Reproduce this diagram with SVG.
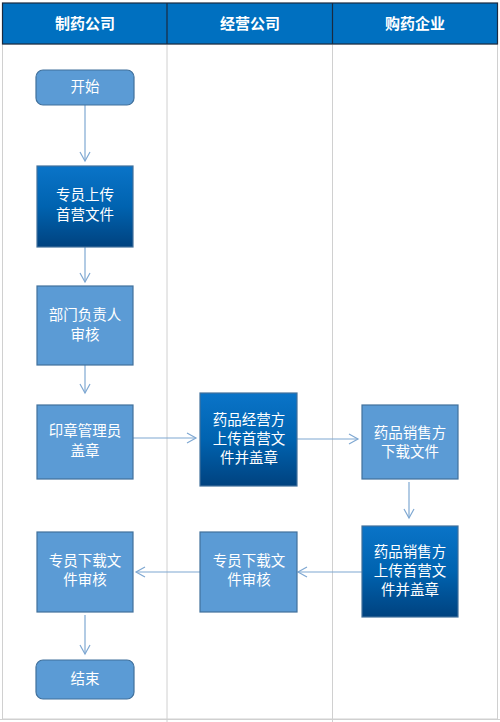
<svg xmlns="http://www.w3.org/2000/svg" width="500" height="722" viewBox="0 0 500 722">
<style>
.lane{fill:none;stroke:#d0d0d0;stroke-width:1}
.hdr{fill:#0070C0;stroke:#1a2a40;stroke-width:1.2}
.ht{font-family:"Noto Sans CJK SC","Noto Sans",sans-serif;font-size:15px;font-weight:bold;fill:#fff;text-anchor:middle}
.lt{fill:#5B9BD5;stroke:#41719C;stroke-width:1.2}
.dk{fill:url(#g);stroke:#41719C;stroke-width:1.2}
.t{font-family:"Noto Sans CJK SC","Noto Sans",sans-serif;font-size:14.5px;fill:#fff;text-anchor:middle}
.c{fill:none;stroke:#7FA8D2;stroke-width:1.2;marker-end:url(#a)}
</style>
<defs>
<linearGradient id="g" x1="0" y1="0" x2="0" y2="1">
<stop offset="0" stop-color="#0A74C8"/>
<stop offset="0.5" stop-color="#0063B0"/>
<stop offset="1" stop-color="#00427F"/>
</linearGradient>
<marker id="a" markerWidth="12" markerHeight="12" refX="10" refY="6" orient="auto" markerUnits="userSpaceOnUse">
<path d="M1,1 L10,6 L1,11" fill="none" stroke="#7FA8D2" stroke-width="1.2"/>
</marker>
</defs>
<rect width="500" height="722" fill="#fff"/>
<g id="lanes">
<rect class="lane" x="2.5" y="44" width="495" height="675"/>
<line class="lane" x1="167" y1="44" x2="167" y2="722"/>
<line class="lane" x1="332.5" y1="44" x2="332.5" y2="722"/>
<line class="lane" x1="0" y1="719.5" x2="500" y2="719.5"/>
</g>
<g id="header">
<rect class="hdr" x="2.5" y="3" width="495" height="41"/>
<line x1="167" y1="3" x2="167" y2="44" stroke="#1a2a40" stroke-width="1.2"/>
<line x1="332.5" y1="3" x2="332.5" y2="44" stroke="#1a2a40" stroke-width="1.2"/>
<text class="ht" x="85" y="29">制药公司</text>
<text class="ht" x="250" y="29">经营公司</text>
<text class="ht" x="415" y="29">购药企业</text>
</g>
<g id="connectors">
<line class="c" x1="85" y1="105" x2="85" y2="161"/>
<line class="c" x1="85" y1="247" x2="85" y2="282"/>
<line class="c" x1="85" y1="365" x2="85" y2="393"/>
<line class="c" x1="133" y1="438" x2="196" y2="438"/>
<line class="c" x1="297" y1="439" x2="358" y2="439"/>
<line class="c" x1="409" y1="482" x2="409" y2="518"/>
<line class="c" x1="362" y1="572" x2="298" y2="572"/>
<line class="c" x1="200" y1="572" x2="136" y2="572"/>
<line class="c" x1="85" y1="615" x2="85" y2="654"/>
</g>
<g id="start">
<rect class="lt" x="36" y="70" width="98" height="35" rx="7"/>
<text class="t" x="85" y="92">开始</text>
</g>
<g id="upload">
<rect class="dk" x="37" y="166" width="96" height="81"/>
<text class="t" x="85" y="200">专员上传</text>
<text class="t" x="85" y="220">首营文件</text>
</g>
<g id="dept">
<rect class="lt" x="37" y="286" width="96" height="79"/>
<text class="t" x="85" y="320">部门负责人</text>
<text class="t" x="85" y="340">审核</text>
</g>
<g id="seal">
<rect class="lt" x="37" y="405" width="96" height="74"/>
<text class="t" x="85" y="436">印章管理员</text>
<text class="t" x="85" y="456">盖章</text>
</g>
<g id="dealer">
<rect class="dk" x="200" y="393" width="97" height="93"/>
<text class="t" x="249" y="425">药品经营方</text>
<text class="t" x="249" y="444">上传首营文</text>
<text class="t" x="249" y="463">件并盖章</text>
</g>
<g id="seller-download">
<rect class="lt" x="362" y="405" width="96" height="74"/>
<text class="t" x="410" y="438">药品销售方</text>
<text class="t" x="410" y="457">下载文件</text>
</g>
<g id="seller-upload">
<rect class="dk" x="362" y="526" width="96" height="91"/>
<text class="t" x="410" y="557">药品销售方</text>
<text class="t" x="410" y="576">上传首营文</text>
<text class="t" x="410" y="595">件并盖章</text>
</g>
<g id="mid-review">
<rect class="lt" x="200" y="532" width="97" height="80"/>
<text class="t" x="249" y="566">专员下载文</text>
<text class="t" x="249" y="585">件审核</text>
</g>
<g id="left-review">
<rect class="lt" x="37" y="532" width="96" height="80"/>
<text class="t" x="85" y="566">专员下载文</text>
<text class="t" x="85" y="585">件审核</text>
</g>
<g id="end">
<rect class="lt" x="36" y="660" width="98" height="39" rx="7"/>
<text class="t" x="85" y="684">结束</text>
</g>
</svg>
